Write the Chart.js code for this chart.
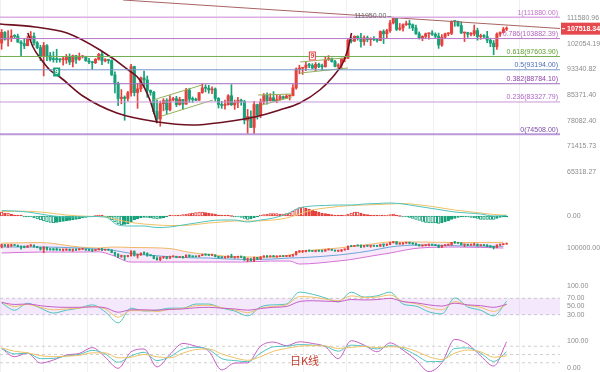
<!DOCTYPE html>
<html>
<head>
<meta charset="utf-8">
<title>BTC 日K线</title>
<script src="https://cdn.jsdelivr.net/npm/chart.js@4.4.1/dist/chart.umd.min.js"></script>
<style>
  html, body { margin: 0; padding: 0; background: #fff; }
  #wrap { position: relative; width: 600px; height: 372px; overflow: hidden; }
  .pane { position: absolute; left: 0; width: 600px; }
  #period { position: absolute; left: 290px; top: 354px; font: 11px "Noto Sans CJK SC", sans-serif; line-height: 12px; color: #c0392b; }
</style>
</head>
<body>
<div id="wrap">
  <div class="pane" style="top:0;height:192px"><canvas id="main"></canvas></div>
  <div class="pane" style="top:192px;height:46px"><canvas id="macd"></canvas></div>
  <div class="pane" style="top:238px;height:44px"><canvas id="boll"></canvas></div>
  <div class="pane" style="top:282px;height:48px"><canvas id="rsi"></canvas></div>
  <div class="pane" style="top:330px;height:42px"><canvas id="kdj"></canvas></div>
  <div id="period">日K线</div>
</div>
<script>
// daily candles, 21 Jan -> 26 Jun
const opens = [
  102300,106140,103650,103960,104820,104700,102600,102080,101330,103730,
  104730,102400,100650,97690,101400,97870,96620,96560,96530,96480,
  96500,97400,95750,97870,96620,97500,97570,96120,95770,95540,
  96640,98330,96120,96570,96270,91550,88740,84350,84710,84370,
  86030,94260,86120,87220,90620,89960,86740,86150,80600,78530,
  82860,83720,81070,83970,84340,82580,84070,82720,86850,84170,
  84040,83830,86080,87500,87420,86900,87180,84350,82600,82340,
  82550,85160,82510,83100,83850,83500,78210,79230,76270,82580,
  79590,83400,85290,83720,84570,83660,84030,84900,84450,85060,
  85170,87510,93440,93700,93950,94720,94640,93750,94980,94280,
  94170,96490,96910,95890,94320,94750,96800,97030,103240,102970,
  104700,104110,102810,104170,103540,103740,103490,103190,106450,105600,
  106790,109680,111670,107290,107790,109030,109440,108990,107800,105640,
  103990,104640,105650,105880,105430,104730,101580,104390,105610,105790,
  110290,110260,108690,105930,106090,105470,105550,106800,104600,104880,
  104630,103300,102250,100960,105550,106050,107340
];
const highs = [
  107200,106400,106800,107100,105300,105500,103200,103800,104800,106450,
  106000,102800,101500,102500,101700,99000,99200,100100,96900,97300,
  98300,98500,98100,98000,98800,97900,97700,97000,96000,96900,
  98700,99500,96900,96700,96500,92500,89300,87000,85100,86500,
  95000,94400,88900,90900,92800,91200,86900,86500,83900,83600,
  84300,84300,85200,84700,85000,84700,84100,87400,87400,84800,
  84500,86100,88700,88500,88300,87800,87500,84600,83500,83900,
  85500,88500,83900,84700,84200,83800,81200,80800,83500,82700,
  84200,85800,86000,85800,86400,85400,85400,85100,85600,85300,
  88500,93800,94700,94000,95700,95300,95200,95600,95400,95100,
  97400,97900,97100,96300,95200,96900,97700,103900,104300,104900,
  104900,105800,104900,104800,104200,104600,103700,106700,107100,107300,
  110700,111950,111800,109500,109300,110400,110700,109300,108900,106300,
  104900,105900,105900,106800,106000,105900,105300,105900,106000,110500,
  110400,110400,110100,106200,106200,106100,108900,107700,105500,105300,
  106500,104000,103200,106000,106300,108000,108200
];
const lows = [
  100100,103300,101200,102800,104100,102500,97780,100300,101300,103300,
  101500,100300,96200,91230,96200,96100,95700,95600,95700,94700,
  95300,94900,94100,95300,96300,97100,96000,95200,93400,95200,
  96400,94900,95800,95300,91400,86000,82300,82800,78200,83600,
  85000,85100,81500,86400,87800,84700,85300,80000,77500,76600,
  80800,79900,80800,83600,82000,82400,81200,82600,83200,83200,
  83700,83800,85900,86300,85900,85800,83600,81600,81500,81300,
  82400,82300,81200,81700,82400,77200,74508,76200,74600,78500,
  78900,82800,82700,83600,83600,83100,83900,84300,84400,83900,
  85100,87100,91900,91700,92900,93900,93600,92900,93900,92900,
  94100,96300,95700,94100,93500,93400,95800,96900,102300,102800,
  103300,100800,101500,102700,101400,103100,102600,103100,102100,104200,
  106100,109300,106800,106900,106600,108700,107600,106800,105400,103700,
  103100,103900,103700,105000,104200,100400,101100,103900,104900,105300,
  108400,108400,105700,102800,104300,104800,104900,103300,103600,104100,
  102400,101000,98200,100000,104700,105900,106800
];
const closes = [
  106140,103650,103960,104820,104700,102600,102080,101330,103730,104730,
  102400,100650,97690,101400,97870,96620,96560,96530,96480,96500,
  97400,95750,97870,96620,97500,97570,96120,95770,95540,96640,
  98330,96120,96570,96270,91550,88740,84350,84710,84370,86030,
  94260,86120,87220,90620,89960,86740,86150,80600,78530,82860,
  83720,81070,83970,84340,82580,84070,82720,86850,84170,84040,
  83830,86080,87500,87420,86900,87180,84350,82600,82340,82550,
  85160,82510,83100,83850,83500,78210,79230,76270,82580,79590,
  83400,85290,83720,84570,83660,84030,84900,84450,85060,85170,
  87510,93440,93700,93950,94720,94640,93750,94980,94280,94170,
  96490,96910,95890,94320,94750,96800,97030,103240,102970,104700,
  104110,102810,104170,103540,103740,103490,103190,106450,105600,106790,
  109680,111670,107290,107790,109030,109440,108990,107800,105640,103990,
  104640,105650,105880,105430,104730,101580,104390,105610,105790,110290,
  110260,108690,105930,106090,105470,105550,106800,104600,104880,104630,
  103300,102250,100960,105550,106050,107340,107518.34
];
const lastPrice = 107518.34;
const peakIdx = 121, peakHigh = 111950;

const priceTicks = [111580.96, 102054.19, 93340.82, 85371.40, 78082.40, 71415.73, 65318.27];

const fibRatios = [1, 0.786, 0.618, 0.5, 0.382, 0.236, 0];
const fibPrices = [111880.00, 103882.39, 97603.90, 93194.00, 88784.10, 83327.79, 74508.00];

// drawn lines, [candle index, price]
const trendTop = [[37.5, 118789], [172.5, 107581]];
const arcTop = [[-0.5, 109277], [10.3, 108145], [20.2, 105910], [30.4, 99830], [39.6, 92802], [42.7, 89946], [45.8, 83902], [48.0, 77455]];
const arcBowl = [[8.1, 105910], [9.7, 100878], [11.9, 97097], [14.9, 93126], [18.0, 90888], [25.1, 85074], [35.6, 80196],
  [48.3, 77725], [58.8, 76919], [68.9, 77725], [78.2, 79088], [85.9, 81036], [92.1, 83032], [98.3, 86870],
  [102.3, 90888], [105.4, 95420], [106.9, 99830], [108.1, 105910]];
const chan1U = [[46.8, 83902], [61.9, 88396]];
const chan1L = [[49.5, 79363], [65.3, 83902]];
const chan2U = [[79.2, 85370], [89.7, 85666]];
const chan2L = [[80.4, 82455], [89.7, 84778]];
const chan3U = [[92.2, 95748], [105.5, 97097]];
const chan3L = [[92.2, 92158], [107.0, 93775]];
const tdMarks = [{ i: 17, p: 92480, up: false }, { i: 96, p: 97770, up: true }];

// MACD
const macdHist = [
  400,300,300,200,100,50,30,-30,-50,-100,
  -200,-300,-400,-500,-600,-650,-700,-650,-600,-550,-500,-450,-400,-350,-300,-200,-150,
  -100,-50,0,50,30,-50,
  -200,-400,-600,-800,-900,-850,-800,-600,-400,
  -300,-200,-150,-150,-200,-250,-300,-250,-200,-100,
  50,80,100,100,
  150,200,250,300,350,400,400,350,300,250,200,
  100,80,50,30,0,-30,-50,
  -150,-250,-350,-300,-200,
  -50,50,150,200,250,250,250,200,200,250,300,
  500,700,850,900,800,700,600,500,400,300,250,200,
  150,100,80,60,80,
  200,300,400,400,300,200,
  150,100,80,60,80,100,100,150,200,
  50,0,-50,-100,-150,
  -250,-350,-450,-550,-650,-700,-700,-700,-750,-700,-600,-500,-350,-250,-150,
  -50,-50,-100,
  -150,-200,-250,-350,-350,-350,-350,-350,-250,-150,-100,-50
];
const indIdx = [0,4,8,12,16,20,24,28,32,36,40,44,48,52,56,60,64,68,72,76,80,84,88,92,96,100,104,108,112,116,120,124,128,132,136,140,144,148,152,156];
const macdDif = [550,500,400,200,0,-100,-100,-50,-100,-900,-1000,-1000,-1150,-1100,-900,-700,-500,-400,-400,-600,
  -400,-200,200,800,1000,1050,1100,1100,1200,1250,1300,1200,1000,800,600,400,300,200,0,50];
const macdDea = [450,480,470,400,250,100,0,-50,-80,-400,-650,-800,-900,-950,-950,-850,-700,-600,-500,-500,
  -480,-400,-200,200,600,800,950,1050,1100,1150,1200,1250,1150,1000,800,600,450,300,150,80];

// bands
const bollIdx = [0,12,24,30,34,40,52,58,64,74,83,89,92,104,107,114,120,129,141,155];
const bollUp = [109000,110000,101800,100000,101800,101000,99000,92000,88000,83400,83400,87000,92600,100000,102000,107000,111000,111000,110000,110500];
const bollMid = [101800,101800,100000,98000,96300,90000,84000,82000,81500,79000,79500,81600,82000,87000,89000,95000,101800,105500,104000,103000];
const bollLow = [90800,92600,92600,93000,87000,74200,74200,74200,74200,74200,76000,76000,70500,76000,78000,85000,90800,100000,101800,100000];

// RSI
const rsi6 = [58.5,41,58,46,34,41,46,54,37,10,46,39,41,46,46,56,56,46,39,27,49,54,56,85,80,71,61,85,73,76,85,56,51,37,32,71,49,41,27,63];
const rsi12 = [61,50,55,48,42,44,46,50,44,24,40,40,38,43,45,52,53,47,42,35,46,50,54,74,73,68,64,76,72,73,78,62,57,47,42,62,53,48,38,56];
const rsi24 = [60,55,56,52,49,48,48,49,47,36,42,42,41,43,44,47,48,46,44,41,45,48,50,62,64,63,62,67,66,67,70,62,59,54,51,58,54,52,48,55];
const rsiLevels = [70, 30];

// KDJ
const kdjK = [72,52,55,35,36,45,50,65,52,22,45,58,28,42,70,76,68,35,28,24,55,78,80,86,84,80,62,84,80,70,82,72,48,24,25,72,74,55,25,60];
const kdjD = [74,62,56,46,42,44,47,56,56,38,40,50,42,38,55,68,70,52,38,29,42,62,72,80,82,81,72,76,79,75,78,76,62,42,32,55,66,60,40,45];
const kdjJ = [72,42,55,19,30,48,54,75,40,0,60,70,5,50,90,80,62,-6,19,20,80,95,82,96,90,78,35,100,84,60,92,66,30,-12,20,105,88,45,8,96];
const kdjLevels = [80, 50, 20];

const FONT = '"Liberation Sans", Arial, sans-serif';
const UP = '#e5423e', DOWN = '#17a079';
const TEAL = '#4fc3c0', YELLOW = '#f0c165', MAGENTA = '#c65ec6';
const XMIN = -0.5, XMAX = 172.5;
const gridIdx = [-0.4, 13, 26.4, 39.8, 53.1, 66.5, 79.9, 93.3, 106.6, 120, 133.4, 146.8, 160.1];

const days = closes.map((_, i) => i);
const candleColor = days.map(i => closes[i] >= opens[i] ? UP : DOWN);

const pts = (idx, vals) => idx.map((x, k) => ({ x, y: vals[k] }));
const pairs = arr => arr.map(p => ({ x: p[0], y: p[1] }));
const span = v => [{ x: XMIN, y: v }, { x: XMAX, y: v }];
const line = (data, color, width, extra) => Object.assign(
  { type: 'line', data, borderColor: color, borderWidth: width, pointRadius: 0, fill: false, tension: 0, order: 0 }, extra || {});

function candleSets(bodyW) {
  return [
    { type: 'bar', data: days.map(i => ({ x: i, y: [lows[i], highs[i]] })), backgroundColor: candleColor,
      barThickness: 1, grouped: false, order: 3 },
    { type: 'bar', data: days.map(i => ({ x: i, y: [opens[i], closes[i]] })), backgroundColor: candleColor,
      barThickness: bodyW, minBarLength: 1, grouped: false, order: 2 }
  ];
}

function panel(id, datasets, y, plugins) {
  return new Chart(document.getElementById(id), {
    data: { datasets },
    options: {
      responsive: true, maintainAspectRatio: false, animation: false,
      layout: { padding: 0 },
      plugins: { legend: { display: false }, tooltip: { enabled: false } },
      scales: {
        x: {
          type: 'linear', min: XMIN, max: XMAX, offset: false,
          ticks: { display: false }, border: { display: false },
          grid: { color: '#f0f0f0', drawTicks: false, offset: false },
          afterBuildTicks: s => { s.ticks = gridIdx.map(v => ({ value: v })); },
          afterFit: s => { s.height = 0; }
        },
        y: {
          type: y.type || 'linear', position: 'right', min: y.min, max: y.max,
          border: { display: false }, grid: { display: false, drawTicks: false },
          ticks: { color: '#8c8c8c', font: { size: 7, family: FONT }, padding: 7, autoSkip: false,
            callback: v => Number(v).toFixed(2) },
          afterBuildTicks: s => { s.ticks = y.ticks.map(v => ({ value: v })); },
          afterFit: s => { s.width = 40; s.paddingTop = 0; s.paddingBottom = 0; }
        }
      }
    },
    plugins: plugins || []
  });
}

// ---- main price pane
const fibLine = ['#dcaee3', '#b878c6', '#74ad52', '#7395c8', '#a06cc0', '#c897d6', '#bb98d8'];
const fibText = ['#c271c8', '#b064be', '#5d9e2e', '#4d6fb8', '#8d3fa8', '#b066c6', '#7d4aa8'];
const OLIVE = '#93b159', MAROON = '#6e1020';

const mainSets = candleSets(2.4);
fibPrices.forEach((p, k) => mainSets.push(line(span(p), fibLine[k], k === 6 ? 2 : (k === 0 ? 1.5 : 1))));
mainSets.push(line(pairs(trendTop), '#a86464', 1));
mainSets.push(line(pairs(arcTop), MAROON, 1.6, { cubicInterpolationMode: 'monotone' }));
mainSets.push(line(pairs(arcBowl), MAROON, 1.6, { cubicInterpolationMode: 'monotone' }));
[chan1U, chan1L, chan2U, chan2L, chan3U, chan3L].forEach(c => mainSets.push(line(pairs(c), OLIVE, 1)));

const mainDecor = {
  id: 'mainDecor',
  afterDraw(c) {
    const { ctx, chartArea: a, scales: { x, y } } = c;
    ctx.save();
    ctx.font = '7px ' + FONT;
    ctx.textAlign = 'right';
    ctx.textBaseline = 'bottom';
    fibRatios.forEach((r, k) => {
      ctx.fillStyle = fibText[k];
      ctx.fillText(r + '(' + fibPrices[k].toFixed(2) + ')', a.right - 2, y.getPixelForValue(fibPrices[k]) - 1);
    });
    // high marker
    const hx = x.getPixelForValue(peakIdx), hy = y.getPixelForValue(peakHigh);
    ctx.fillStyle = '#666';
    ctx.textBaseline = 'middle';
    ctx.fillText(peakHigh.toFixed(2), hx - 7, hy - 1);
    ctx.strokeStyle = '#888';
    ctx.lineWidth = 1;
    ctx.beginPath(); ctx.moveTo(hx - 6, hy - 0.5); ctx.lineTo(hx - 2, hy - 0.5); ctx.stroke();
    // TD 9 marks
    ctx.textAlign = 'center';
    ctx.font = 'bold 7px ' + FONT;
    tdMarks.forEach(m => {
      const mx = x.getPixelForValue(m.i), my = y.getPixelForValue(m.p);
      if (m.up) {
        ctx.fillStyle = '#fff'; ctx.fillRect(mx - 3.5, my - 4.5, 7, 9);
        ctx.strokeStyle = UP; ctx.strokeRect(mx - 3, my - 4, 6, 8);
        ctx.fillStyle = UP;
      } else {
        ctx.fillStyle = DOWN; ctx.fillRect(mx - 3.5, my - 4.5, 7, 9);
        ctx.fillStyle = '#fff';
      }
      ctx.fillText('9', mx, my + 0.5);
    });
    // last price tag
    const py = y.getPixelForValue(lastPrice);
    ctx.fillStyle = '#e5484d';
    ctx.fillRect(a.right + 1, py - 6, c.width - a.right - 1, 12);
    ctx.fillStyle = '#fff';
    ctx.fillRect(a.right + 2, py - 0.5, 3, 1);
    ctx.textAlign = 'left';
    ctx.font = 'bold 7px ' + FONT;
    ctx.fillText(lastPrice.toFixed(2), a.right + 7, py + 0.5);
    ctx.restore();
  }
};

panel('main', mainSets, { type: 'logarithmic', min: 60935, max: 118789, ticks: priceTicks }, [mainDecor]);

// ---- MACD pane
const histColor = ctx => macdHist[ctx.dataIndex] >= 0 ? UP : DOWN;
const histFill = ctx => {
  const i = ctx.dataIndex, v = macdHist[i], prev = i > 0 ? macdHist[i - 1] : 0;
  return Math.abs(v) >= Math.abs(prev) ? '#ffffff' : histColor(ctx);
};
panel('macd', [
  { type: 'bar', data: days.map(i => ({ x: i, y: macdHist[i] })), backgroundColor: histFill, borderColor: histColor,
    borderWidth: 1, borderSkipped: false, barThickness: 2.6, minBarLength: 1, grouped: false, order: 2 },
  line(pts(indIdx, macdDif), TEAL, 1, { cubicInterpolationMode: 'monotone' }),
  line(pts(indIdx, macdDea), YELLOW, 1, { cubicInterpolationMode: 'monotone' })
], { min: -2200, max: 2400, ticks: [0] });

// ---- band pane
panel('boll', [
  line(pts(bollIdx, bollUp), '#f0b865', 1, { fill: '+1', backgroundColor: 'rgba(226,170,236,0.25)', cubicInterpolationMode: 'monotone', order: 5 }),
  line(pts(bollIdx, bollLow), '#d36ad3', 1, { cubicInterpolationMode: 'monotone', order: 5 }),
  line(pts(bollIdx, bollMid), '#6aa6d8', 1, { cubicInterpolationMode: 'monotone', order: 4 }),
  ...candleSets(1.6)
], { min: 37372, max: 118420, ticks: [100000] });

// ---- RSI pane
panel('rsi', [
  line(span(rsiLevels[0]), '#c8c8c8', 1, { borderDash: [3, 3], fill: '+1', backgroundColor: 'rgba(214,180,245,0.3)', order: 5 }),
  line(span(rsiLevels[1]), '#c8c8c8', 1, { borderDash: [3, 3], order: 5 }),
  line(pts(indIdx, rsi24), MAGENTA, 1, { cubicInterpolationMode: 'monotone' }),
  line(pts(indIdx, rsi12), YELLOW, 1, { cubicInterpolationMode: 'monotone' }),
  line(pts(indIdx, rsi6), TEAL, 1, { cubicInterpolationMode: 'monotone' })
], { min: -7.3, max: 109.76, ticks: [30, 50, 70, 100] });

// ---- KDJ pane
panel('kdj', [
  ...kdjLevels.map(v => line(span(v), '#cfcfcf', 1, { borderDash: [3, 3], order: 5 })),
  line(pts(indIdx, kdjD), YELLOW, 1, { cubicInterpolationMode: 'monotone' }),
  line(pts(indIdx, kdjK), TEAL, 1, { cubicInterpolationMode: 'monotone' }),
  line(pts(indIdx, kdjJ), MAGENTA, 1, { cubicInterpolationMode: 'monotone' })
], { min: -13.4, max: 138.8, ticks: [0, 100] });
</script>
</body>
</html>
